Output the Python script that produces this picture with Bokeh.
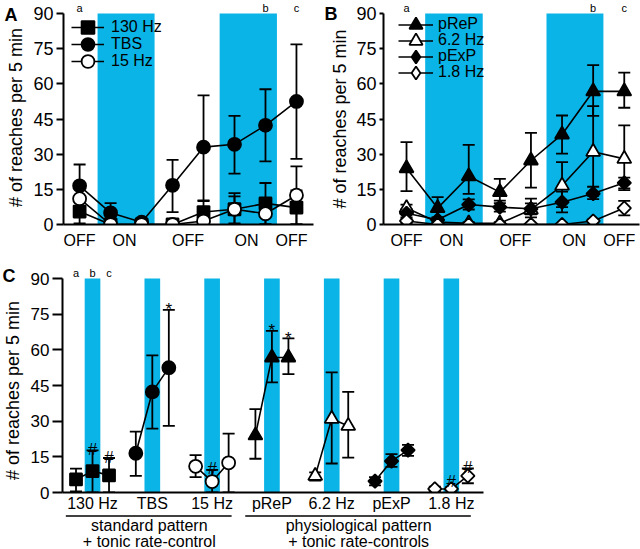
import numpy as np
from bokeh.plotting import figure
from bokeh.layouts import column, row
from bokeh.models import FixedTicker, Legend, LegendItem, Range1d
from bokeh.core.properties import value
from bokeh.embed import file_html
from bokeh.resources import INLINE

FONT = "Liberation Sans"
BLUE = "#0ab4e6"

# ------------------------------------------------------------------ data
session = [1, 2, 3, 4, 5, 6, 7, 8]
session_ticks = [1, 2.45, 4.5, 6.39, 7.84]
session_tick_labels = ["OFF", "ON", "OFF", "ON", "OFF"]
y_ticks = [0, 15, 30, 45, 60, 75, 90]
y_title = "# of reaches per 5 min"

# Panel A : standard pattern + tonic rate control
a_130 = [5.5, 0, 0, 0, 5.3, 6.5, 9.0, 7.2]
a_130_lo = [0.5, 0, 0, 0, 0.5, 0, 0, 0]
a_130_hi = [10.0, 0, 0, 0, 10.0, 13.4, 17.7, 14.5]
a_tbs = [16.5, 5.0, 1.0, 16.7, 33.0, 34.2, 42.3, 52.5]
a_tbs_lo = [7.0, 1.0, 0.3, 5.3, 10.3, 21.7, 26.9, 28.0]
a_tbs_hi = [25.6, 9.1, 1.5, 27.6, 55.1, 46.3, 57.7, 76.8]
a_15 = [11.0, 0, 0, 0, 1.5, 6.5, 4.6, 12.5]
a_15_lo = [6.5, 0, 0, 0, 0, 0.5, 0, 0]
a_15_hi = [15.7, 0, 0, 0, 3.0, 12.0, 9.5, 24.8]

# Panel B : physiological pattern + tonic rate controls
b_prep = [24.0, 7.0, 20.6, 13.8, 27.3, 38.4, 56.8, 56.8]
b_prep_lo = [14.2, 2.9, 13.1, 10.2, 15.7, 30.2, 46.3, 49.8]
b_prep_hi = [35.1, 11.7, 34.0, 19.5, 39.1, 46.5, 68.0, 64.8]
b_62 = [7.0, 1.0, 0.5, 0.5, 6.3, 16.6, 31.0, 28.0]
b_62_lo = [5.0, 0, 0, 0, 3.0, 7.4, 12.2, 14.7]
b_62_hi = [8.5, 2.0, 1.0, 1.0, 9.0, 26.6, 50.5, 42.3]
b_pexp = [4.8, 2.0, 8.5, 7.4, 6.7, 9.5, 13.2, 17.8]
b_pexp_lo = [3.0, 1.0, 6.4, 5.5, 4.3, 5.2, 10.8, 15.4]
b_pexp_hi = [6.5, 3.0, 10.7, 9.1, 11.0, 14.0, 16.1, 20.0]
b_18 = [1.5, 0, 0, 0, 0, 0, 1.5, 7.0]
b_18_lo = [0.5, 0, 0, 0, 0, 0, 0.8, 3.9]
b_18_hi = [2.5, 0, 0, 0, 0, 0, 2.2, 10.1]

# stimulation blocks (in session units)
stim_blocks_a = [(1.58, 3.42), (5.52, 7.37)]
stim_blocks_b = [(1.60, 3.45), (5.50, 7.33)]

# Panel C : sessions a, b, c of every group
c_groups = ["130 Hz", "TBS", "15 Hz", "pReP", "6.2 Hz", "pExP", "1.8 Hz"]
c_session_idx = [0, 6, 7]          # a, b, c
c_letters = ["a", "b", "c"]
c_marks = [("130 Hz", 1, "#"), ("130 Hz", 2, "#"), ("TBS", 2, "*"),
           ("15 Hz", 1, "#"), ("pReP", 1, "*"), ("pReP", 2, "*"),
           ("1.8 Hz", 1, "#"), ("1.8 Hz", 2, "#")]
c_sections = [("standard pattern", "+ tonic rate-control", 0, 2),
              ("physiological pattern", "+ tonic rate-controls", 3, 6)]

series = {
    "130 Hz": (a_130, a_130_lo, a_130_hi),
    "TBS": (a_tbs, a_tbs_lo, a_tbs_hi),
    "15 Hz": (a_15, a_15_lo, a_15_hi),
    "pReP": (b_prep, b_prep_lo, b_prep_hi),
    "6.2 Hz": (b_62, b_62_lo, b_62_hi),
    "pExP": (b_pexp, b_pexp_lo, b_pexp_hi),
    "1.8 Hz": (b_18, b_18_lo, b_18_hi),
}
# marker, filled, size, angle
styles = {
    "130 Hz": ("square", True, 12, 0.0),
    "TBS": ("circle", True, 13, 0.0),
    "15 Hz": ("circle", False, 13, 0.0),
    "pReP": ("triangle", True, 14, 0.0),
    "6.2 Hz": ("triangle", False, 14, 0.0),
    "pExP": ("square", True, 9.5, np.pi / 4),
    "1.8 Hz": ("square", False, 9.5, np.pi / 4),
}

LW = 1.8


def base_fig(fw, fh, bl, br, bt, bb, xr, yr, axes=True):
    kw = {}
    if not axes:
        kw = dict(x_axis_type=None, y_axis_type=None)
    p = figure(frame_width=fw, frame_height=fh, min_border_left=bl,
               min_border_right=br, min_border_top=bt, min_border_bottom=bb,
               x_range=xr, y_range=yr, output_backend="svg",
               toolbar_location=None, title=None, **kw)
    p.outline_line_color = None
    p.xgrid.visible = False
    p.ygrid.visible = False
    p.background_fill_color = "white"
    p.border_fill_color = "white"
    return p


def make_fig(fw, fh, bl, br, bt, bb, xr, ytop, tick_out, ytick_size):
    p = base_fig(fw, fh, bl, br, bt, bb, xr, Range1d(0, ytop))
    ya = p.yaxis[0]
    ya.bounds = (0, 90)
    ya.ticker = FixedTicker(ticks=y_ticks)
    ya.major_tick_out = tick_out
    ya.major_tick_in = 0
    ya.minor_tick_out = 0
    ya.minor_tick_in = 0
    ya.axis_line_width = 2
    ya.major_tick_line_width = 2
    ya.major_label_text_font = FONT
    ya.major_label_text_font_size = ytick_size
    ya.major_label_text_color = "black"
    ya.major_label_standoff = 3
    xa = p.xaxis[0]
    xa.major_tick_out = 0
    xa.major_tick_in = 0
    xa.minor_tick_out = 0
    xa.minor_tick_in = 0
    xa.axis_line_width = 2
    xa.major_label_text_font = FONT
    xa.major_label_text_font_size = "16px"
    xa.major_label_text_color = "black"
    return p


def gutter(w, h, letter, letter_x, letter_y, title_x, title_y):
    g = base_fig(w, h, 0, 0, 0, 0, Range1d(0, w), Range1d(0, h), axes=False)
    g.text(x=[letter_x], y=[letter_y], text=[letter], text_font=value(FONT),
           text_font_size="18px", text_font_style="bold", text_align="left",
           text_baseline="middle", text_color="black")
    g.text(x=[title_x], y=[title_y], text=[y_title], text_font=value(FONT),
           text_font_size="18px", text_align="center", text_baseline="middle",
           angle=np.pi / 2, text_color="black")
    return g


def draw_errors(p, xs, ys, lo, hi):
    keep = [i for i in range(len(xs)) if lo[i] != hi[i]]
    ex = [xs[i] for i in keep]
    elo = [lo[i] for i in keep]
    ehi = [hi[i] for i in keep]
    p.segment(x0=ex, y0=elo, x1=ex, y1=ehi, line_color="black", line_width=LW)
    p.scatter(x=ex + ex, y=elo + ehi, marker="dash", size=12,
              line_color="black", line_width=LW)


def draw_markers(p, xs, ys, name):
    """Returns (renderer used for the legend, plotted renderer).
    Legend glyphs ignore the marker angle, so for the rotated squares a
    slightly smaller diamond is drawn underneath (fully covered) and used as
    the legend's sample glyph."""
    marker, filled, size, angle = styles[name]
    fill = "black" if filled else "white"
    legend_r = None
    if angle != 0.0:
        legend_r = p.scatter(x=xs, y=ys, marker="diamond", size=12,
                             fill_color=fill, line_color="black", line_width=LW)
    r = p.scatter(x=xs, y=ys, marker=marker, size=size, angle=angle,
                  fill_color=fill, line_color="black", line_width=LW)
    return (legend_r or r), r


def time_panel(names, blocks, xr, fw, bl, br, tick_out, leg):
    fh = 222
    ytop = 222 / (211 / 90)
    p = make_fig(fw=fw, fh=fh, bl=bl, br=br, bt=2, bb=41, xr=xr, ytop=ytop,
                 tick_out=tick_out, ytick_size="18px")
    p.quad(left=[b[0] for b in blocks], right=[b[1] for b in blocks],
           bottom=0, top=90, fill_color=BLUE, line_color=None)
    xa = p.xaxis[0]
    xa.ticker = FixedTicker(ticks=session_ticks)
    xa.major_label_overrides = {t: l for t, l in zip(session_ticks, session_tick_labels)}
    xa.major_label_standoff = 7
    for n in names:
        y, lo, hi = series[n]
        draw_errors(p, session, y, lo, hi)
    for k, n in enumerate(names):
        y, lo, hi = series[n]
        lr = p.line(x=session, y=y, line_color="black", line_width=1.6)
        lm, mr = draw_markers(p, session, y, n)
        row_center = fh - leg["top"] - k * leg["pitch"]
        legend = Legend(items=[LegendItem(label=n, renderers=[lr, lm])],
                        location=(leg["x"], row_center - leg["gh"] / 2),
                        glyph_width=leg["gw"], glyph_height=leg["gh"],
                        label_standoff=leg["st"], label_text_font=FONT,
                        label_text_font_size=leg["fs"], label_height=16,
                        label_text_color="black",
                        padding=0, margin=0, border_line_color=None,
                        background_fill_alpha=0)
        p.add_layout(legend)
    p.text(x=[session[i] for i in c_session_idx], y=[92.3] * 3, text=c_letters,
           text_font=value(FONT), text_font_size="11px", text_align="center",
           text_baseline="middle", text_color="black")
    return p


gA = gutter(30, 265, "A", 4, 252.5, 15, 150)
pA = time_panel(["130 Hz", "TBS", "15 Hz"], stim_blocks_a, Range1d(0.48, 8.55),
                fw=250, bl=32, br=5, tick_out=7,
                leg=dict(x=8, top=24.7, pitch=17, gw=33, gh=32, st=7, fs="16px"))
gB = gutter(35, 265, "B", 6, 254, 21, 148.5)
pB = time_panel(["pReP", "6.2 Hz", "pExP", "1.8 Hz"], stim_blocks_b,
                Range1d(0.26, 8.49), fw=256, bl=28, br=4, tick_out=4,
                leg=dict(x=15, top=22, pitch=16, gw=35, gh=33, st=5, fs="16px"))

# ------------------------------------------------------------------ panel C
OFF = 0.276      # spacing of sessions inside a group (group units)
BAND = 0.131
fhc = 226
c_xr = Range1d(-0.502, 6.538)
pC = make_fig(fw=421, fh=fhc, bl=32, br=8, bt=1, bb=21, xr=c_xr,
              ytop=226 / (214 / 90), tick_out=10, ytick_size="17px")
gidx = list(range(len(c_groups)))
pC.quad(left=[g - BAND for g in gidx], right=[g + BAND for g in gidx],
        bottom=0, top=90, fill_color=BLUE, line_color=None)
xa = pC.xaxis[0]
xa.ticker = FixedTicker(ticks=gidx)
xa.major_label_overrides = {g: n for g, n in zip(gidx, c_groups)}
xa.major_label_standoff = 2

cdata = {}
for g, n in zip(gidx, c_groups):
    y, lo, hi = series[n]
    xs = [g + (k - 1) * OFF for k in range(3)]
    ys = [y[i] for i in c_session_idx]
    los = [lo[i] for i in c_session_idx]
    his = [hi[i] for i in c_session_idx]
    cdata[n] = (xs, ys, los, his)
    draw_errors(pC, xs, ys, los, his)
for n in c_groups:
    xs, ys, los, his = cdata[n]
    pC.line(x=xs, y=ys, line_color="black", line_width=1.6)
    draw_markers(pC, xs, ys, n)

for sym in ["#", "*"]:
    mx, my = [], []
    for n, k, s in c_marks:
        if s != sym:
            continue
        xs, ys, los, his = cdata[n]
        mx.append(xs[k])
        my.append(max(his[k], ys[k] + 2.5))
    pC.text(x=mx, y=my, text=[sym] * len(mx), text_font=value(FONT),
            text_font_size="17px",
            text_align="center", text_baseline="alphabetic",
            y_offset=-1 if sym == "#" else 0, text_color="black")

pC.text(x=[(k - 1) * OFF for k in range(3)], y=[92.5] * 3, text=c_letters,
        text_font=value(FONT), text_font_size="11px", text_align="center",
        text_baseline="middle", text_color="black")

gC = gutter(27, 248, "C", 2, 239, 12, 124)

# section captions below panel C
pD = base_fig(421, 35, 59, 8, 0, 0, c_xr, Range1d(0, 35), axes=False)
for t1, t2, g0, g1 in c_sections:
    left = g0 - OFF - 0.12
    right = g1 + OFF + 0.1
    pD.segment(x0=[left], x1=[right], y0=[33.5], y1=[33.5], line_color="black",
               line_width=1.5)
    mid = (g0 + g1) / 2
    pD.text(x=[mid, mid], y=[24, 8], text=[t1, t2], text_font=value(FONT),
            text_font_size="16px", text_align="center", text_baseline="middle",
            text_color="black")

layout = column(row(gA, pA, gB, pB), row(gC, pC), pD)
open("out.html", "w").write(file_html(layout, INLINE))
